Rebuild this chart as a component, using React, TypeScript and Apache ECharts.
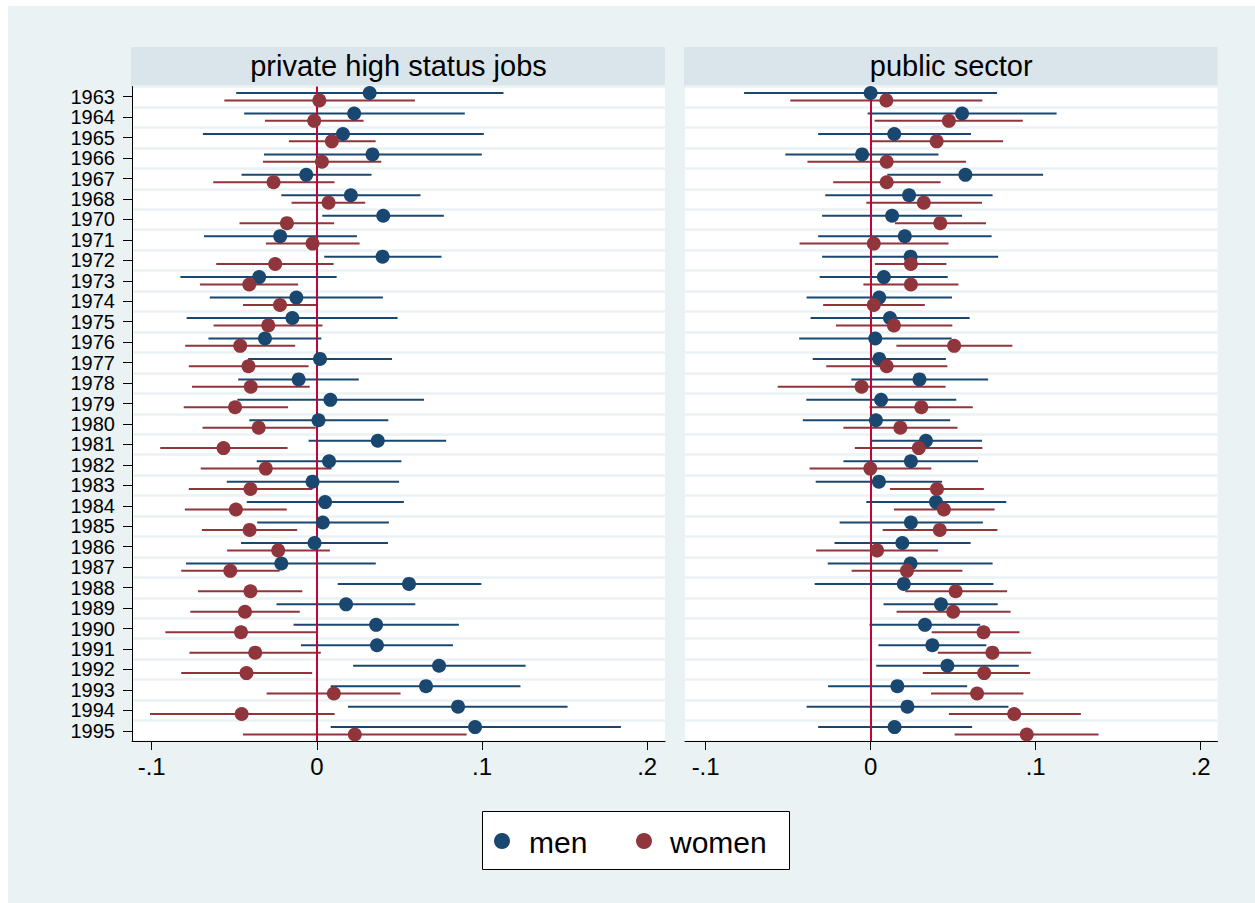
import React, { useEffect, useRef } from "react";
import * as echarts from "echarts";

// Survey years (1969 has no estimate)
const years = [
  "1963", "1964", "1965", "1966", "1967", "1968", "1970", "1971", "1972", "1973",
  "1974", "1975", "1976", "1977", "1978", "1979", "1980", "1981", "1982", "1983",
  "1984", "1985", "1986", "1987", "1988", "1989", "1990", "1991", "1992", "1993",
  "1994", "1995",
];

const xTickValues = [-0.1, 0, 0.1, 0.2];

// Private high status jobs — men
const privMen = [0.032, 0.0226, 0.0158, 0.0337, -0.0064, 0.0206, 0.0402, -0.0222, 0.0398, -0.0349, -0.0124, -0.0148, -0.0314, 0.0019, -0.011, 0.0082, 0.001, 0.0369, 0.0074, -0.0026, 0.005, 0.0036, -0.0014, -0.0215, 0.0558, 0.0177, 0.0359, 0.0364, 0.074, 0.0661, 0.0855, 0.0958];
const privMenLo = [-0.0488, -0.044, -0.069, -0.032, -0.0456, -0.0215, 0.0033, -0.0683, 0.0045, -0.0826, -0.0648, -0.0788, -0.0656, -0.0416, -0.0476, -0.0481, -0.0409, -0.005, -0.0364, -0.0545, -0.0424, -0.0361, -0.0459, -0.0792, 0.0127, -0.0244, -0.0141, -0.0096, 0.022, 0.0084, 0.0189, 0.0084];
const privMenHi = [0.113, 0.0896, 0.1011, 0.0999, 0.0331, 0.0628, 0.0769, 0.0243, 0.0755, 0.012, 0.04, 0.0489, 0.0027, 0.0455, 0.0254, 0.0649, 0.0433, 0.0783, 0.0512, 0.0498, 0.0527, 0.0436, 0.0431, 0.0357, 0.0996, 0.0596, 0.086, 0.0824, 0.1264, 0.1233, 0.1518, 0.1841];

// Private high status jobs — women
const privWomen = [0.0015, -0.0016, 0.0091, 0.0031, -0.0262, 0.0071, -0.0181, -0.0026, -0.0252, -0.0409, -0.0223, -0.0294, -0.0464, -0.0414, -0.04, -0.0495, -0.0352, -0.0565, -0.0309, -0.0402, -0.049, -0.0407, -0.0234, -0.0524, -0.0402, -0.0435, -0.0459, -0.0373, -0.0426, 0.0103, -0.0455, 0.023];
const privWomenLo = [-0.056, -0.0314, -0.0169, -0.0326, -0.0627, -0.0153, -0.0468, -0.0308, -0.0609, -0.0708, -0.0447, -0.0625, -0.0797, -0.0775, -0.0756, -0.0806, -0.0692, -0.0948, -0.0703, -0.0775, -0.0799, -0.0696, -0.0543, -0.0821, -0.072, -0.0766, -0.0917, -0.0771, -0.0821, -0.0304, -0.101, -0.0447];
const privWomenHi = [0.0594, 0.0283, 0.0356, 0.039, 0.0107, 0.0293, 0.0105, 0.0259, 0.0101, -0.0113, -0.0002, 0.0034, -0.0131, -0.005, -0.0043, -0.0174, -0.0007, -0.0177, 0.0089, -0.0026, -0.0182, -0.0119, 0.0079, -0.0225, -0.0088, -0.0103, -0.0002, 0.0024, -0.0028, 0.0507, 0.0108, 0.0907];

// Public sector — men
const pubMen = [0.0, 0.0554, 0.0143, -0.0052, 0.0574, 0.0233, 0.013, 0.0207, 0.0242, 0.008, 0.0052, 0.0117, 0.0028, 0.0052, 0.0296, 0.0063, 0.0032, 0.0335, 0.0244, 0.005, 0.0396, 0.0244, 0.0192, 0.0242, 0.0201, 0.0426, 0.0329, 0.0374, 0.0465, 0.0162, 0.0223, 0.0145];
const pubMenLo = [-0.0767, -0.0018, -0.0318, -0.0517, 0.0101, -0.0275, -0.0294, -0.0318, -0.0294, -0.0309, -0.0388, -0.0364, -0.0433, -0.0351, -0.0117, -0.039, -0.0411, 0.0004, -0.0165, -0.0333, -0.0026, -0.0188, -0.0219, -0.026, -0.0339, 0.0078, -0.0007, 0.0047, 0.0034, -0.0258, -0.0388, -0.0318];
const pubMenHi = [0.0766, 0.1127, 0.0608, 0.0411, 0.1045, 0.0739, 0.0554, 0.0733, 0.0773, 0.0467, 0.0493, 0.06, 0.0491, 0.0456, 0.0712, 0.0519, 0.0482, 0.0675, 0.0651, 0.0433, 0.0822, 0.068, 0.0606, 0.0739, 0.0744, 0.077, 0.0664, 0.0701, 0.0898, 0.0585, 0.0835, 0.0615];

// Public sector — women
const pubWomen = [0.0095, 0.0474, 0.04, 0.0097, 0.0097, 0.0322, 0.0422, 0.0019, 0.0244, 0.0244, 0.0019, 0.0141, 0.0506, 0.0097, -0.0055, 0.0307, 0.018, 0.0292, -0.0002, 0.0402, 0.0444, 0.0419, 0.0039, 0.022, 0.0515, 0.05, 0.0684, 0.0738, 0.0688, 0.0645, 0.087, 0.0946];
const pubWomenLo = [-0.0487, 0.0024, 0.0, -0.0383, -0.0227, -0.0026, 0.0147, -0.0431, 0.0026, -0.0044, -0.0288, -0.021, 0.0156, -0.0269, -0.0563, -0.0007, -0.0165, -0.0096, -0.037, 0.0117, 0.0141, 0.0073, -0.033, -0.0115, 0.021, 0.0157, 0.037, 0.0407, 0.0316, 0.0366, 0.0474, 0.0509];
const pubWomenHi = [0.0677, 0.0922, 0.0803, 0.0578, 0.0424, 0.0675, 0.0699, 0.0472, 0.0459, 0.0532, 0.0328, 0.0495, 0.0859, 0.0465, 0.0454, 0.0619, 0.0526, 0.0677, 0.0368, 0.0686, 0.0751, 0.0768, 0.0409, 0.0556, 0.0827, 0.0848, 0.0902, 0.0973, 0.0967, 0.0926, 0.1274, 0.1381];

const panelTitles = ["private high status jobs", "public sector"];
const groupNames = ["men", "women"];

const NAVY = "#1a476f";
const MAROON = "#90353b";
const ZERO_RED = "#c10534";
const GRID_LINE = "#eaf2f3";
const STRIP_BG = "#d9e5ea";
const FONT = "Liberation Sans, Arial, Helvetica, sans-serif";

// vertical shift of the two groups within one year row
const GROUP_SHIFT = 0.18;

const fmtTick = (v: number) => {
  if (Math.abs(v) < 1e-9) return "0";
  const s = String(Math.round(v * 10) / 10);
  return s.replace("0.", ".");
};

const PANEL_TOP = 86.5;
const PANEL_HEIGHT = 654.5;
const panels = [
  { left: 132, width: 533, min: -0.1119, max: 0.2108 },
  { left: 685, width: 532.5, min: -0.1125, max: 0.2102 },
];

function ciSeries(name: string, gridIdx: number, lo: number[], hi: number[], shift: number, color: string, z: number) {
  return {
    name,
    type: "custom",
    xAxisIndex: gridIdx,
    yAxisIndex: gridIdx * 2 + 1,
    z,
    silent: true,
    encode: { x: [0, 1], y: 2 },
    data: years.map((_, i) => [lo[i], hi[i], i + 0.5 + shift]),
    renderItem: (_params: any, api: any) => {
      const y = api.value(2);
      const p1 = api.coord([api.value(0), y]);
      const p2 = api.coord([api.value(1), y]);
      return {
        type: "line",
        shape: { x1: p1[0], y1: p1[1], x2: p2[0], y2: p2[1] },
        style: { stroke: color, lineWidth: 2 },
      };
    },
  };
}

function dotSeries(name: string, gridIdx: number, coef: number[], shift: number, color: string, z: number, withZero: boolean) {
  const s: any = {
    name,
    type: "scatter",
    xAxisIndex: gridIdx,
    yAxisIndex: gridIdx * 2 + 1,
    z,
    silent: true,
    symbol: "circle",
    symbolSize: 14,
    itemStyle: { color, opacity: 1 },
    data: coef.map((v, i) => [v, i + 0.5 + shift]),
  };
  if (withZero) {
    s.markLine = {
      silent: true,
      z: 4,
      symbol: ["none", "none"],
      label: { show: false },
      lineStyle: { color: ZERO_RED, width: 2, type: "solid" },
      data: [{ xAxis: 0 }],
    };
  }
  return s;
}

export default function App() {
  const ref = useRef<HTMLDivElement>(null);

  useEffect(() => {
    if (!ref.current) return;
    const chart = echarts.init(ref.current, null, { renderer: "svg" });

    const grids = panels.map((p) => ({
      left: p.left,
      top: PANEL_TOP,
      width: p.width,
      height: PANEL_HEIGHT,
      show: true,
      backgroundColor: "#ffffff",
      borderWidth: 0,
    }));

    const xAxes = panels.map((p, gi) => ({
      type: "value",
      gridIndex: gi,
      position: "bottom",
      min: p.min,
      max: p.max,
      axisLine: { show: true, onZero: false, lineStyle: { color: "#000", width: 1 } },
      axisTick: {
        show: true,
        length: 9,
        customValues: xTickValues,
        lineStyle: { color: "#000", width: 1 },
      },
      axisLabel: {
        customValues: xTickValues,
        formatter: fmtTick,
        fontSize: 24,
        fontFamily: FONT,
        color: "#000",
        margin: 13,
      },
      splitLine: { show: false },
    }));

    const yAxes: any[] = [];
    panels.forEach((_p, gi) => {
      const isLeft = gi === 0;
      yAxes.push({
        type: "category",
        gridIndex: gi,
        position: "left",
        data: years,
        inverse: true,
        boundaryGap: true,
        axisLine: { show: isLeft, onZero: false, lineStyle: { color: "#000", width: 1 } },
        axisTick: {
          show: isLeft,
          alignWithLabel: true,
          interval: 0,
          length: 9,
          lineStyle: { color: "#000", width: 1 },
        },
        axisLabel: {
          show: isLeft,
          interval: 0,
          fontSize: 20,
          fontFamily: FONT,
          color: "#000",
          margin: 17,
        },
        splitLine: { show: true, interval: 0, lineStyle: { color: GRID_LINE, width: 2.5 } },
      });
      yAxes.push({
        type: "value",
        gridIndex: gi,
        position: "left",
        min: 0,
        max: years.length,
        inverse: true,
        show: false,
        axisLine: { onZero: false },
        splitLine: { show: false },
      });
    });

    const panelData = [
      { men: privMen, menLo: privMenLo, menHi: privMenHi, women: privWomen, womenLo: privWomenLo, womenHi: privWomenHi },
      { men: pubMen, menLo: pubMenLo, menHi: pubMenHi, women: pubWomen, womenLo: pubWomenLo, womenHi: pubWomenHi },
    ];

    const series: any[] = [];
    panelData.forEach((d, gi) => {
      series.push(ciSeries(groupNames[0] + " ci", gi, d.menLo, d.menHi, -GROUP_SHIFT, NAVY, 2));
      series.push(ciSeries(groupNames[1] + " ci", gi, d.womenLo, d.womenHi, GROUP_SHIFT, MAROON, 3));
      series.push(dotSeries(groupNames[0], gi, d.men, -GROUP_SHIFT, NAVY, 6, true));
      series.push(dotSeries(groupNames[1], gi, d.women, GROUP_SHIFT, MAROON, 7, false));
    });

    const graphic: any[] = [];
    panels.forEach((p, gi) => {
      graphic.push({
        type: "rect",
        shape: { x: p.left - 1, y: 47, width: p.width + 1, height: 39.5 },
        style: { fill: STRIP_BG },
        silent: true,
      });
      graphic.push({
        type: "text",
        x: p.left + p.width / 2,
        y: 66,
        silent: true,
        style: {
          text: panelTitles[gi],
          fontSize: 29,
          fontFamily: FONT,
          fill: "#000",
          align: "center",
          verticalAlign: "middle",
        },
      });
    });

    // legend box
    graphic.push({
      type: "rect",
      shape: { x: 482.5, y: 811.5, width: 307, height: 58 },
      style: { fill: "#ffffff", stroke: "#000", lineWidth: 1 },
      silent: true,
    });
    const legendItems = [
      { label: groupNames[0], color: NAVY, cx: 502, tx: 529 },
      { label: groupNames[1], color: MAROON, cx: 644, tx: 670 },
    ];
    legendItems.forEach((it) => {
      graphic.push({
        type: "circle",
        shape: { cx: it.cx, cy: 841, r: 8 },
        style: { fill: it.color },
        silent: true,
      });
      graphic.push({
        type: "text",
        x: it.tx,
        y: 842,
        silent: true,
        style: {
          text: it.label,
          fontSize: 30,
          fontFamily: FONT,
          fill: "#000",
          align: "left",
          verticalAlign: "middle",
        },
      });
    });

    chart.setOption({
      animation: false,
      backgroundColor: "transparent",
      grid: grids,
      xAxis: xAxes,
      yAxis: yAxes,
      series,
      graphic,
    });

    return () => chart.dispose();
  }, []);

  return (
    <div style={{ position: "absolute", left: 0, top: 0, width: 1255, height: 903, background: "#ffffff" }}>
      <div
        style={{
          position: "absolute",
          left: 8,
          top: 6,
          width: 1247,
          height: 897,
          background: GRID_LINE,
        }}
      />
      <div ref={ref} style={{ position: "absolute", left: 0, top: 0, width: 1255, height: 903 }} />
    </div>
  );
}
